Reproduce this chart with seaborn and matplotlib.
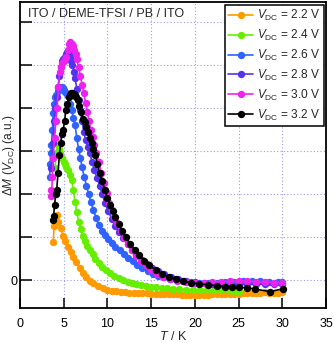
import matplotlib
matplotlib.use('Agg')
import matplotlib.pyplot as plt
import seaborn as sns
import pandas as pd

# temperature (K) and Delta M (a.u.), one pair of lists per V_DC
t_22 = [3.8, 3.9, 4.0, 4.2, 4.4, 4.65, 4.95, 5.2, 5.5, 5.8, 6.1, 6.4, 6.85, 7.2, 7.6, 8.0, 8.4,
        8.9, 9.5, 10.0, 10.5, 11.0, 11.5, 12.0, 12.5, 13.0, 13.5, 14.0, 14.5, 15.0, 15.5, 16.0,
        16.5, 17.0, 17.5, 18.0, 18.5, 19.0, 19.5, 20.0, 20.5, 21.0, 21.5, 22.0, 22.5, 23.0, 23.5,
        24.0, 24.5, 25.0, 25.5, 26.0, 26.5, 27.0, 27.5, 28.0, 28.5, 29.0, 29.5, 30.0]
m_22 = [0.88, 1.25, 1.42, 1.52, 1.35, 1.22, 1.02, 0.90, 0.78, 0.66, 0.54, 0.42, 0.28, 0.17, 0.06,
        -0.02, -0.06, -0.13, -0.19, -0.22, -0.25, -0.26, -0.27, -0.28, -0.29, -0.30, -0.30, -0.31,
        -0.31, -0.32, -0.32, -0.32, -0.33, -0.33, -0.33, -0.33, -0.34, -0.34, -0.34, -0.34, -0.34,
        -0.34, -0.34, -0.33, -0.33, -0.33, -0.33, -0.33, -0.32, -0.32, -0.31, -0.30, -0.30, -0.29,
        -0.29, -0.28, -0.29, -0.30, -0.29, -0.28]

t_24 = [4.0, 4.15, 4.3, 4.45, 4.6, 4.8, 5.0, 5.15, 5.3, 5.5, 5.7, 5.9, 6.1, 6.3, 6.5, 6.7, 6.95,
        7.2, 7.45, 7.7, 8.0, 8.3, 8.6, 9.0, 9.4, 9.8, 10.3, 10.8, 11.3, 11.8, 12.3, 12.8, 13.3,
        13.8, 14.4, 15.0, 15.6, 16.2, 16.8, 17.5, 18.2, 19.0, 19.8, 20.6, 21.4, 22.2, 23.0, 23.8,
        24.5, 25.0]
m_24 = [2.6, 2.95, 3.15, 3.05, 2.95, 2.85, 2.75, 2.7, 2.62, 2.55, 2.45, 2.32, 2.1, 1.82, 1.58,
        1.36, 1.18, 1.02, 0.9, 0.8, 0.7, 0.6, 0.5, 0.4, 0.3, 0.23, 0.16, 0.1, 0.05, 0.0, -0.04,
        -0.07, -0.1, -0.12, -0.14, -0.16, -0.17, -0.18, -0.19, -0.2, -0.21, -0.22, -0.22, -0.23,
        -0.23, -0.24, -0.24, -0.24, -0.25, -0.25]

t_26 = [3.4, 3.45, 3.5, 3.6, 3.7, 3.8, 3.9, 4.0, 4.15, 4.3, 4.45, 4.6, 4.75, 4.9, 5.05, 5.2, 5.35,
        5.5, 5.7, 5.9, 6.1, 6.3, 6.5, 6.7, 6.9, 7.1, 7.35, 7.6, 7.85, 8.1, 8.4, 8.7, 9.0, 9.35,
        9.7, 10.1, 10.5, 10.9, 11.4, 11.9, 12.4, 12.9, 13.4, 14.0, 14.6, 15.2, 15.8, 16.5, 17.2,
        18.0, 18.8, 19.6, 20.5, 21.5, 22.5, 23.5, 24.5, 25.5, 26.5, 27.5, 28.5, 29.5, 30.0]
m_26 = [2.4, 2.7, 2.95, 3.15, 3.5, 3.88, 4.1, 4.26, 4.3, 4.4, 4.5, 4.48, 4.5, 4.46, 4.42, 4.38,
        4.33, 4.28, 4.1, 3.95, 3.78, 3.6, 3.3, 3.05, 2.85, 2.62, 2.4, 2.2, 2.0, 1.82, 1.63, 1.45,
        1.28, 1.15, 1.05, 0.95, 0.86, 0.78, 0.70, 0.6, 0.52, 0.44, 0.36, 0.28, 0.21, 0.15, 0.1,
        0.06, 0.02, -0.01, -0.03, -0.05, -0.06, -0.06, -0.06, -0.05, -0.04, -0.03, -0.03, -0.03,
        -0.04, -0.04, -0.05]

t_28 = [3.6, 3.75, 3.9, 4.05, 4.2, 4.35, 4.5, 4.65, 4.8, 4.95, 5.1, 5.25, 5.4, 5.55, 5.7, 5.85,
        6.0, 6.15, 6.3, 6.5, 6.7, 6.9, 7.1, 7.3, 7.5, 7.75, 8.0, 8.25, 8.5, 8.8, 9.1, 9.4, 9.7,
        10.1, 10.5, 10.9, 11.3, 11.8, 12.3, 12.8, 13.3, 13.9, 14.5, 15.1, 15.8, 16.5, 17.3, 18.1,
        19.0, 20.0, 21.0, 22.0, 23.0, 24.0, 25.0, 26.0, 27.0, 28.0, 29.0, 30.0]
m_28 = [2.6, 3.2, 3.7, 4.0, 4.25, 4.5, 4.75, 4.95, 5.1, 5.15, 5.2, 5.25, 5.3, 5.27, 5.2, 5.1,
        5.0, 4.85, 4.7, 4.45, 4.2, 3.95, 3.7, 3.45, 3.25, 3.1, 2.95, 2.75, 2.56, 2.38, 2.2, 2.0,
        1.8, 1.6, 1.42, 1.26, 1.12, 0.97, 0.83, 0.7, 0.58, 0.47, 0.37, 0.28, 0.2, 0.13, 0.07, 0.02,
        -0.02, -0.05, -0.07, -0.08, -0.09, -0.09, -0.1, -0.1, -0.1, -0.1, -0.1, -0.1]

t_30 = [3.5, 3.6, 3.7, 3.8, 3.95, 4.1, 4.25, 4.4, 4.55, 4.7, 4.85, 5.0, 5.15, 5.3, 5.45, 5.6,
        5.75, 5.9, 6.05, 6.2, 6.35, 6.5, 6.7, 6.9, 7.1, 7.3, 7.5, 7.7, 7.9, 8.1, 8.3, 8.5, 8.75,
        9.0, 9.3, 9.6, 9.9, 10.2, 10.5, 10.8, 11.1, 11.5, 11.9, 12.3, 12.8, 13.3, 13.8, 14.4, 15.0,
        15.7, 16.4, 17.2, 18.0, 19.0, 20.0, 21.0, 22.0, 23.0, 24.0, 25.0, 26.0, 27.0, 28.0, 29.0,
        30.0]
m_30 = [2.1, 1.95, 2.4, 2.85, 3.3, 3.7, 4.0, 4.5, 4.85, 4.95, 5.05, 5.1, 5.15, 5.2, 5.35, 5.5,
        5.55, 5.5, 5.45, 5.35, 5.25, 5.15, 4.95, 4.75, 4.55, 4.35, 4.12, 3.9, 3.7, 3.5, 3.33, 3.15,
        2.95, 2.75, 2.5, 2.25, 2.02, 1.8, 1.62, 1.46, 1.32, 1.14, 0.98, 0.84, 0.69, 0.56, 0.45,
        0.34, 0.24, 0.15, 0.08, 0.02, -0.02, -0.05, -0.06, -0.06, -0.05, -0.04, -0.03, -0.02,
        -0.03, -0.04, -0.05, -0.06, -0.07]

t_32 = [3.8, 3.85, 3.95, 4.1, 4.2, 4.35, 4.5, 4.65, 4.8, 4.95, 5.1, 5.25, 5.4, 5.55, 5.7, 5.85,
        6.0, 6.15, 6.3, 6.45, 6.6, 6.8, 7.0, 7.2, 7.4, 7.6, 7.8, 8.0, 8.2, 8.4, 8.6, 8.85, 9.1,
        9.4, 9.7, 10.0, 10.3, 10.6, 10.9, 11.3, 11.7, 12.1, 12.6, 13.1, 13.6, 14.2, 14.8, 15.5,
        16.2, 17.0, 17.8, 18.7, 19.6, 20.5, 21.5, 22.5, 23.5, 24.3, 25.1, 26.0, 26.9, 28.6, 30.1]
m_32 = [1.4, 1.5, 1.75, 2.0, 2.1, 2.5, 2.9, 3.2, 3.4, 3.5, 3.7, 3.95, 4.1, 4.25, 4.3, 4.35,
        4.35, 4.33, 4.3, 4.25, 4.18, 4.05, 3.9, 3.75, 3.68, 3.55, 3.45, 3.3, 3.18, 3.05, 2.92,
        2.7, 2.5, 2.3, 2.1, 1.9, 1.75, 1.6, 1.46, 1.3, 1.15, 1.0, 0.85, 0.7, 0.58, 0.45, 0.34,
        0.24, 0.15, 0.07, 0.02, -0.03, -0.06, -0.09, -0.11, -0.13, -0.15, -0.16, -0.17, -0.18,
        -0.21, -0.27, -0.2]

labels = ['2.2', '2.4', '2.6', '2.8', '3.0', '3.2']
colores = ['#ff9a00', '#66ee00', '#2f62ff', '#5533ee', '#ee22ee', '#000000']
series = [(t_22, m_22), (t_24, m_24), (t_26, m_26), (t_28, m_28), (t_30, m_30), (t_32, m_32)]

sns.set_theme(style="ticks")
plt.rcParams['font.family'] = ['Liberation Sans', 'DejaVu Sans']
plt.rcParams['mathtext.fontset'] = 'custom'
plt.rcParams['mathtext.rm'] = 'Liberation Sans'
plt.rcParams['mathtext.it'] = 'Liberation Sans:italic'

fig = plt.figure(figsize=(3.35, 3.43), dpi=100)
ax = fig.add_axes([20 / 335, 35 / 343, 306 / 335, 306 / 343])

for (t, m), lab, col in zip(series, labels, colores):
    df = pd.DataFrame({'T': t, 'M': m})
    sns.lineplot(ax=ax, data=df, x='T', y='M', sort=False, estimator=None, color=col,
                 marker='o', markersize=5.3, markeredgewidth=0, linewidth=1.2,
                 label=r'$V_{\rm DC}$ = ' + lab + ' V')

ax.set_xlim(0, 35)
ax.set_ylim(-0.65, 6.47)
ax.set_xticks([0, 5, 10, 15, 20, 25, 30, 35])
ax.set_yticks([0, 1, 2, 3, 4, 5, 6])
ax.set_yticklabels(['0', '', '', '', '', '', ''])
ax.grid(True, color='#9c9ce8', linestyle=(0, (1, 2)), linewidth=0.8)
ax.tick_params(direction='in', width=1.1, labelsize=9, colors='black')
ax.tick_params(axis='x', pad=7, length=7)
ax.tick_params(axis='y', pad=2, length=8.5)
for s in ax.spines.values():
    s.set_linewidth(1.3)
    s.set_color('black')

ax.set_xlabel(r'$T$ / K', fontsize=9, labelpad=0)
ax.set_ylabel(r'$\Delta M$ ($V_{\rm DC}$) (a.u.)', fontsize=8.6)
ax.yaxis.set_label_coords(-0.01, 0.5)
ax.text(0.025, 0.98, 'ITO / DEME-TFSI / PB / ITO', transform=ax.transAxes,
        fontsize=9, va='top', ha='left')

leg = ax.legend(loc='upper right', bbox_to_anchor=(0.993, 0.99), borderaxespad=0,
                fontsize=8.6, frameon=True, fancybox=False, framealpha=1,
                handlelength=2.1, handletextpad=0.35, labelspacing=0.4, borderpad=0.25)
leg.get_frame().set_edgecolor('black')
leg.get_frame().set_linewidth(1.1)

fig.savefig('out.png', dpi=100)
